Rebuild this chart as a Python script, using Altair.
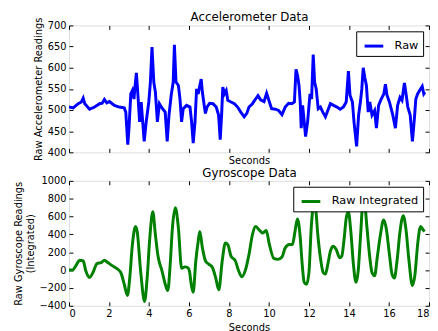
import altair as alt
import pandas as pd

FONT = "DejaVu Sans"

# ---------------- data ----------------
acc_t = [
    0, 0.21, 0.46, 0.62, 0.71, 0.79, 1.03, 1.28, 1.53, 1.66,
    1.77, 1.89, 2.02, 2.27, 2.51, 2.76, 2.84, 2.94, 3.0, 3.09,
    3.17, 3.25, 3.29, 3.37, 3.46, 3.53, 3.61, 3.76, 3.86, 3.99,
    4.07, 4.15, 4.24, 4.32, 4.42, 4.52, 4.65, 4.81, 4.91, 5.0,
    5.11, 5.21, 5.27, 5.35, 5.47, 5.55, 5.63, 5.71, 5.88, 6.05,
    6.13, 6.21, 6.3, 6.38, 6.46, 6.54, 6.61, 6.67, 6.76, 6.82,
    6.9, 7.03, 7.2, 7.36, 7.48, 7.56, 7.63, 7.69, 7.77, 7.86,
    7.94, 8.1, 8.27, 8.43, 8.59, 8.76, 8.89, 9.0, 9.17, 9.33,
    9.45, 9.58, 9.75, 9.88, 10.0, 10.13, 10.32, 10.48, 10.65, 10.81,
    10.98, 11.14, 11.27, 11.35, 11.43, 11.5, 11.56, 11.61, 11.68, 11.76,
    11.83, 11.93, 12.05, 12.13, 12.21, 12.28, 12.36, 12.46, 12.57, 12.69,
    12.82, 12.94, 13.07, 13.23, 13.4, 13.56, 13.72, 13.86, 13.97, 14.05,
    14.17, 14.25, 14.38, 14.48, 14.58, 14.64, 14.71, 14.79, 14.87, 14.96,
    15.04, 15.15, 15.28, 15.37, 15.48, 15.61, 15.74, 15.82, 15.9, 16.02,
    16.19, 16.32, 16.43, 16.55, 16.65, 16.77, 16.84, 16.94, 17.06, 17.17,
    17.27, 17.34, 17.43, 17.53, 17.66, 17.74, 17.8,
]
acc_raw = [
    507, 505, 515, 519, 528, 515, 502, 507, 515, 516,
    525, 517, 520, 511, 507, 505, 495, 418, 457, 538,
    546, 526, 550, 588, 526, 472, 519, 426, 472, 519,
    566, 649, 566, 542, 472, 515, 505, 495, 426, 488,
    535, 566, 654, 566, 558, 526, 472, 503, 511, 507,
    472, 422, 472, 550, 538, 558, 573, 542, 511, 492,
    507, 516, 515, 507, 488, 430, 488, 554, 538, 546,
    523, 519, 515, 507, 495, 484, 492, 507, 515, 526,
    534, 524, 520, 540, 522, 503, 502, 499, 489, 507,
    516, 515, 519, 596, 581, 558, 519, 457, 511, 472,
    437, 472, 538, 526, 631, 566, 550, 503, 507, 495,
    484, 499, 515, 511, 507, 502, 507, 519, 592, 535,
    519, 472, 414, 488, 523, 550, 600, 577, 558, 495,
    519, 488, 499, 457, 511, 526, 538, 561, 535, 519,
    488, 457, 511, 530, 523, 564, 542, 507, 488, 426,
    480, 526, 538, 546, 556, 538, 542,
]

gyro_t = [
    0, 0.18, 0.34, 0.54, 0.71, 0.84, 1.03, 1.2, 1.4, 1.61,
    1.77, 1.94, 2.18, 2.43, 2.59, 2.76, 2.92, 3.04, 3.17, 3.33,
    3.41, 3.58, 3.78, 3.91, 4.04, 4.19, 4.32, 4.45, 4.65, 4.81,
    4.94, 5.06, 5.17, 5.32, 5.47, 5.63, 5.8, 5.93, 6.02, 6.11,
    6.21, 6.34, 6.46, 6.54, 6.67, 6.84, 7.0, 7.17, 7.33, 7.49,
    7.66, 7.82, 7.94, 8.1, 8.32, 8.48, 8.64, 8.81, 9.0, 9.17,
    9.33, 9.5, 9.69, 9.86, 10.02, 10.24, 10.45, 10.65, 10.81, 11.02,
    11.17, 11.3, 11.42, 11.55, 11.66, 11.76, 11.88, 12.0, 12.11, 12.25,
    12.33, 12.44, 12.57, 12.71, 12.82, 12.94, 13.07, 13.2, 13.36, 13.53,
    13.64, 13.76, 13.86, 13.97, 14.09, 14.22, 14.35, 14.46, 14.58, 14.7,
    14.79, 14.9, 15.04, 15.15, 15.28, 15.41, 15.57, 15.73, 15.86, 16.02,
    16.15, 16.27, 16.4, 16.55, 16.71, 16.84, 17.0, 17.17, 17.3, 17.43,
    17.58, 17.7, 17.78,
]
gyro_int = [
    0, 0, 47, 110, 102, -8, -82, -27, 73, 84,
    110, 84, 47, 10, -27, -156, -284, -82, 286, 489,
    433, -8, -351, -82, 360, 654, 396, 157, -8, -156,
    -229, 65, 470, 698, 470, 21, 36, 29, -8, -156,
    -248, 102, 323, 433, 249, 95, 65, 29, -82, -222,
    102, 304, 286, 157, 102, -8, -75, -8, 176, 396,
    489, 452, 415, 444, 286, 131, 120, 146, 249, 286,
    286, 433, 573, 396, 65, -137, -160, -20, 470, 740,
    691, 396, 139, -27, -45, 65, 212, 268, 231, 139,
    157, 360, 580, 654, 433, 65, -137, -8, 396, 760,
    728, 470, 139, -27, -64, 139, 396, 562, 470, 176,
    -45, -89, 102, 433, 610, 470, 102, -174, -45, 286,
    489, 452, 433,
]

x_ticks = [0, 2, 4, 6, 8, 10, 12, 14, 16, 18]
acc_ticks = [400, 450, 500, 550, 600, 650, 700]
gyro_ticks = [-400, -200, 0, 200, 400, 600, 800, 1000]

acc_df = pd.DataFrame({"t": acc_t, "v": acc_raw, "series": "Raw"})
gyro_df = pd.DataFrame({"t": gyro_t, "v": gyro_int, "series": "Raw Integrated"})


def make_axis(orient, values, title=None, labels=True, title_size=10, title_pad=4):
    return alt.Axis(
        orient=orient, values=values, labels=labels, offset=-4, tickSize=4,
        tickColor="black", tickWidth=1, domain=False, grid=False, format="d",
        labelFont=FONT, labelFontSize=10, labelColor="black", labelPadding=3,
        titleFont=FONT, titleFontSize=title_size, titleFontWeight="normal",
        titleColor="black", titlePadding=title_pad, title=title, titleLineHeight=12,
    )


def panel(df, color, ydom, yticks, ytitle, title, show_xlabels, label, interp, height):
    xs = alt.Scale(domain=[0, 18], nice=False, zero=False)
    ys = alt.Scale(domain=ydom, nice=False, zero=False)
    line = alt.Chart(df).mark_line(strokeWidth=3, interpolate=interp, clip=True).encode(
        x=alt.X("t:Q", scale=xs,
                axis=make_axis("bottom", x_ticks, "Seconds", show_xlabels, 10, 4 if show_xlabels else 3)),
        y=alt.Y("v:Q", scale=ys, axis=make_axis("left", yticks, ytitle, True, 10, 4)),
        color=alt.Color(
            "series:N",
            scale=alt.Scale(domain=[label], range=[color]),
            legend=alt.Legend(
                orient="top-right", offset=6, title=None, strokeColor="black",
                fillColor="white", padding=4, symbolType="stroke", symbolSize=361,
                symbolStrokeWidth=3, symbolOffset=3, labelOffset=10,
                labelFont=FONT, labelFontSize=11.5, labelColor="black", cornerRadius=0,
            ),
        ),
    )
    ghost = alt.Chart(df).mark_line(strokeOpacity=0).encode(
        x=alt.X("t:Q", scale=xs, axis=make_axis("top", x_ticks, title, False, 12, 1)),
        y=alt.Y("v:Q", scale=ys, axis=make_axis("right", yticks, None, False)),
    )
    return (
        alt.layer(line, ghost)
        .resolve_axis(x="independent", y="independent")
        .properties(width=366, height=height)
    )


top = panel(acc_df, "#0000ff", [400, 700], acc_ticks, "Raw Accelerometer Readings",
            "Accelerometer Data", False, "Raw", "linear", 129)
bottom = panel(gyro_df, "#008000", [-400, 1000], gyro_ticks,
               ["Raw Gyroscope Readings", "(Integrated)"],
               "Gyroscope Data", True, "Raw Integrated", "monotone", 127)

chart = (
    alt.vconcat(top, bottom, spacing=0)
    .resolve_scale(color="independent")
    .properties(padding={"left": 5, "top": 0, "right": 0, "bottom": 0})
    .configure_view(stroke="black", strokeWidth=1)
    .configure(background="white")
)

chart.save("out.html", embed_options={"renderer": "svg", "actions": False})
